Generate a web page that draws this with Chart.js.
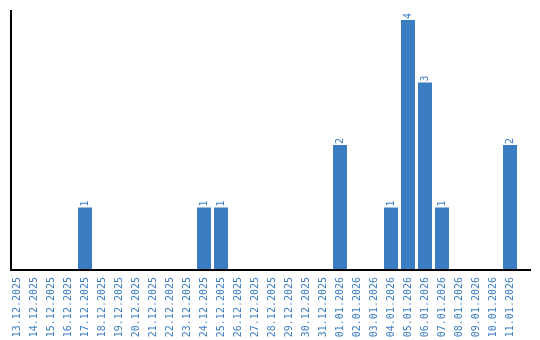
<!DOCTYPE html>
<html>
<head>
<meta charset="utf-8">
<script src="https://cdn.jsdelivr.net/npm/chart.js@4/dist/chart.umd.min.js"></script>
<style>
    html, body { margin: 0; padding: 0; background: #fff; }
    #wrap { width: 540px; height: 340px; position: relative; }
</style>
</head>
<body>
<div id="wrap"><canvas id="dayChart"></canvas></div>
<script>
// Data
const days = [
    '13.12.2025', '14.12.2025', '15.12.2025', '16.12.2025', '17.12.2025',
    '18.12.2025', '19.12.2025', '20.12.2025', '21.12.2025', '22.12.2025',
    '23.12.2025', '24.12.2025', '25.12.2025', '26.12.2025', '27.12.2025',
    '28.12.2025', '29.12.2025', '30.12.2025', '31.12.2025', '01.01.2026',
    '02.01.2026', '03.01.2026', '04.01.2026', '05.01.2026', '06.01.2026',
    '07.01.2026', '08.01.2026', '09.01.2026', '10.01.2026', '11.01.2026'
];
const counts = [
    0, 0, 0, 0, 1,
    0, 0, 0, 0, 0,
    0, 1, 1, 0, 0,
    0, 0, 0, 0, 2,
    0, 0, 1, 4, 3,
    1, 0, 0, 0, 2
];
const yMax = 4.16;

const BLUE = '#3b7dc2';
const FONT = { family: '"DejaVu Sans Mono", monospace', size: 10 };

// Axis lines (left + bottom)
const axisLines = {
    id: 'axisLines',
    afterDatasetsDraw(chart) {
        const { ctx, chartArea: a } = chart;
        ctx.save();
        ctx.strokeStyle = '#000';
        ctx.lineWidth = 2;
        ctx.beginPath();
        ctx.moveTo(a.left + 2.5, a.top);
        ctx.lineTo(a.left + 2.5, a.bottom);
        ctx.lineTo(a.right + 12.5, a.bottom);
        ctx.stroke();
        ctx.restore();
    }
};

// Rotated value labels above bars
const valueLabels = {
    id: 'valueLabels',
    afterDatasetsDraw(chart) {
        const { ctx } = chart;
        const meta = chart.getDatasetMeta(0);
        ctx.save();
        ctx.fillStyle = BLUE;
        ctx.font = `${FONT.size}px ${FONT.family}`;
        ctx.textAlign = 'left';
        ctx.textBaseline = 'middle';
        meta.data.forEach((bar, i) => {
            if (!counts[i]) return;
            ctx.save();
            ctx.translate(bar.x, bar.y - 1);
            ctx.rotate(-Math.PI / 2);
            ctx.fillText(String(counts[i]), 0, 0);
            ctx.restore();
        });
        ctx.restore();
    }
};

new Chart(document.getElementById('dayChart'), {
    type: 'bar',
    data: {
        labels: days,
        datasets: [{
            data: counts,
            backgroundColor: BLUE,
            borderWidth: 0,
            categoryPercentage: 1,
            barPercentage: 14 / 17
        }]
    },
    options: {
        responsive: true,
        maintainAspectRatio: false,
        animation: false,
        layout: {
            padding: { left: 8.5, right: 21.5, top: 10, bottom: 0 }
        },
        plugins: {
            legend: { display: false },
            tooltip: { enabled: false }
        },
        scales: {
            x: {
                grid: { display: false, drawTicks: false },
                border: { display: false },
                ticks: {
                    color: BLUE,
                    font: FONT,
                    minRotation: 90,
                    maxRotation: 90,
                    autoSkip: false,
                    padding: 7
                },
                afterFit: (scale) => { scale.height = 70; }
            },
            y: {
                display: false,
                min: 0,
                max: yMax
            }
        }
    },
    plugins: [axisLines, valueLabels]
});
</script>
</body>
</html>
